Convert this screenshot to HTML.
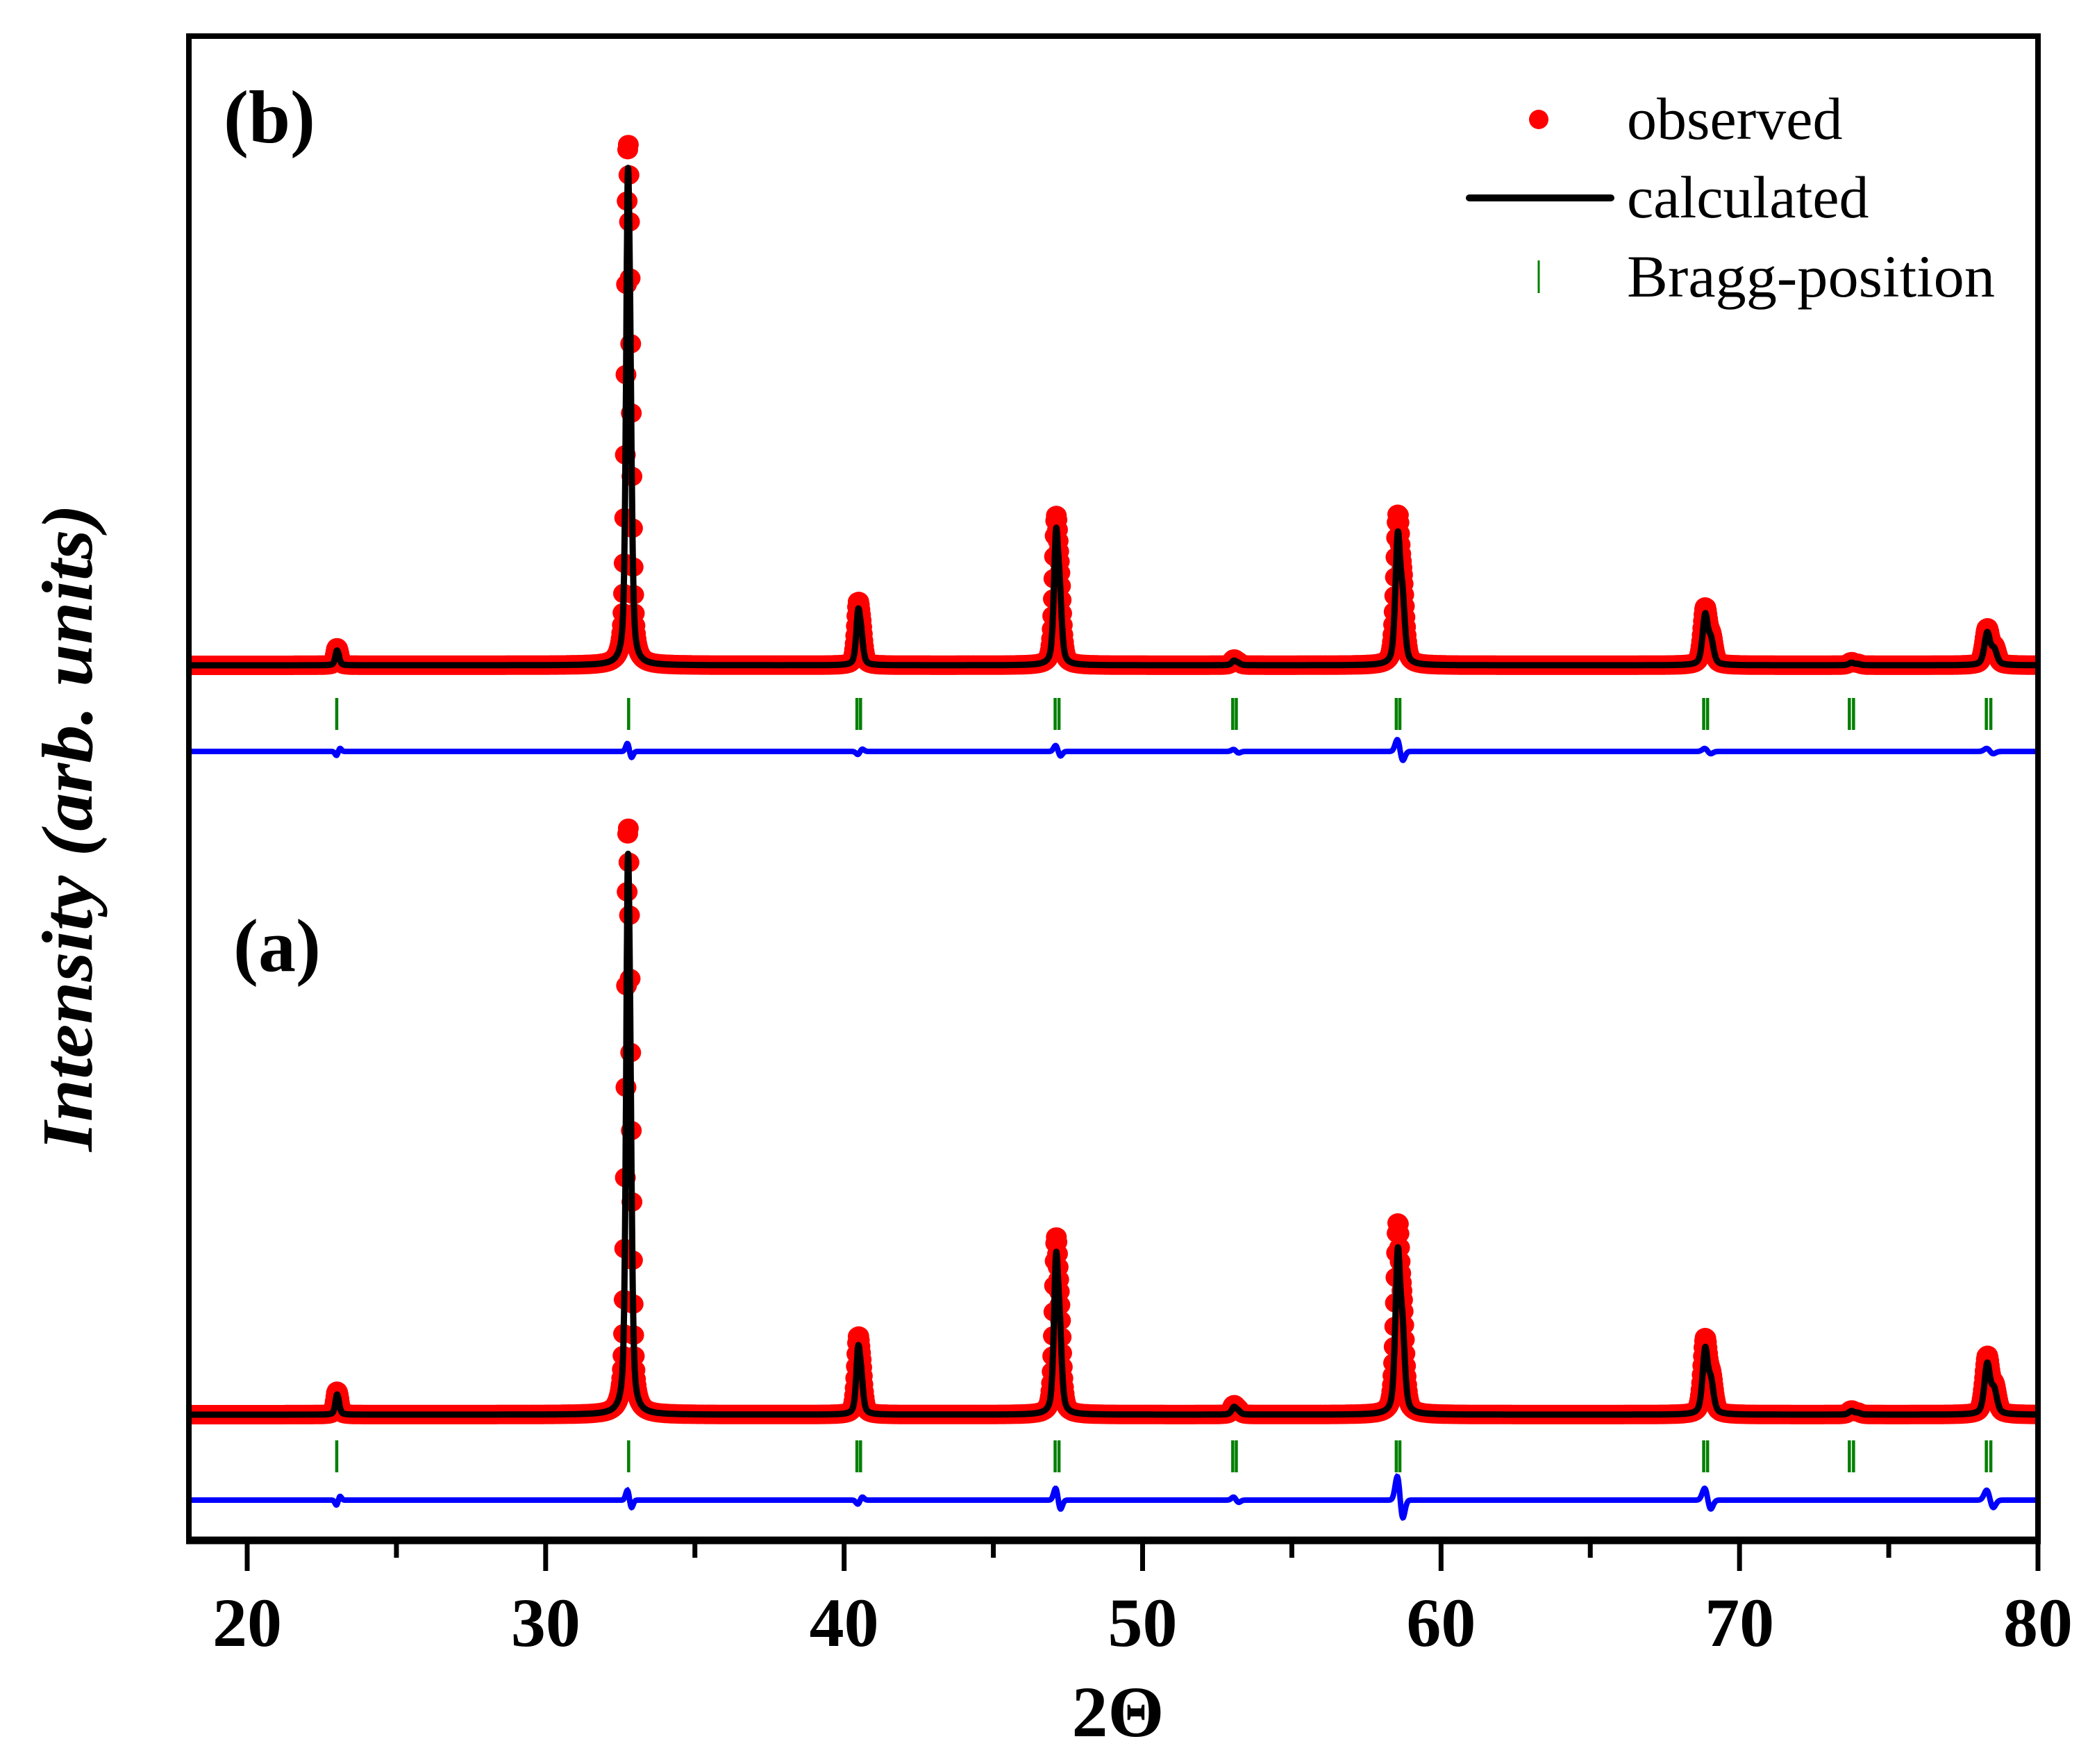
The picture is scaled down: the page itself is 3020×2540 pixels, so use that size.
<!DOCTYPE html>
<html><head><meta charset="utf-8">
<style>
html,body{margin:0;padding:0;background:#fff;}
svg{display:block;}
text{font-family:"Liberation Serif",serif;}
</style></head>
<body>
<svg id="chart" width="3020" height="2540" viewBox="0 0 3020 2540" xmlns="http://www.w3.org/2000/svg">
  <rect x="0" y="0" width="3020" height="2540" fill="#fff"/>
  <g id="plot"></g>
  <rect x="272" y="52" width="2663" height="2166" fill="none" stroke="#000" stroke-width="8"/>
  <line x1="268" y1="2218" x2="2939" y2="2218" stroke="#000" stroke-width="11"/>
  <g id="xticks"></g>
  <text x="1610" y="2500" font-size="104" font-weight="bold" text-anchor="middle">2Θ</text>
  <text transform="translate(132,1192) rotate(-90)" font-size="104" font-weight="bold" font-style="italic" text-anchor="middle" textLength="932" lengthAdjust="spacingAndGlyphs">Intensity (arb. units)</text>
  <text x="322" y="205" font-size="108" font-weight="bold">(b)</text>
  <text x="336" y="1398" font-size="108" font-weight="bold">(a)</text>
  <g>
    <ellipse cx="2216" cy="172" rx="14" ry="14" fill="#ff0000"/>
    <text x="2343" y="200" font-size="86">observed</text>
    <line x1="2116" y1="285" x2="2320" y2="285" stroke="#000" stroke-width="10" stroke-linecap="round"/>
    <text x="2343" y="313" font-size="86">calculated</text>
    <line x1="2216" y1="375" x2="2216" y2="422" stroke="#008000" stroke-width="3"/>
    <text x="2343" y="427" font-size="86" textLength="530" lengthAdjust="spacingAndGlyphs">Bragg-position</text>
  </g>
</svg>
<script>
// ---- data ----
const xTicks = [20, 30, 40, 50, 60, 70, 80];
const xMinorTicks = [25, 35, 45, 55, 65, 75];
const peakPos = [23.0, 32.75, 40.47, 47.1, 53.06, 58.55, 68.85, 73.75, 78.3];
const obsIntB = [33, 990, 122, 285, 12, 290, 112, 7, 72];
const calcIntB = [28, 940, 108, 262, 9, 256, 100, 5, 64];
const obsIntA = [44, 1115, 150, 338, 19, 368, 148, 9, 114];
const calcIntA = [38, 1060, 132, 310, 15, 320, 130, 7, 100];
const diffAmpB = [-4, 8, -3, 6, 2, 12, 3, 0, 3];
const diffAmpA = [-5, 10, -4, 12, 3, 24, 12, 0, 10];
const braggPos = [23.0, 32.78, 40.43, 40.55, 47.07, 47.2, 53.02, 53.14, 58.5, 58.62, 68.8, 68.93, 73.68, 73.82, 78.27, 78.42];

// ---- axes ----
const X0 = 20, X1 = 80, PX0 = 356, PX1 = 2935;
function xs(v){ return PX0 + (v - X0) * (PX1 - PX0) / (X1 - X0); }
const yScale = 0.75;
const panels = [
  {id:'b', base:958, obs:obsIntB, calc:calcIntB, diff:diffAmpB, braggTop:1005, braggBot:1051, diffY:1082},
  {id:'a', base:2037, obs:obsIntA, calc:calcIntA, diff:diffAmpA, braggTop:2074, braggBot:2120, diffY:2160}
];
function ys(p, v){ return p.base - v * yScale; }
function fwhm(t){ return 0.14 + 0.0018 * (t - 30); }
function pv(x, c, w){
  const d = (x - c) / (w / 2);
  return 0.5 / (1 + d * d) + 0.5 * Math.exp(-0.693 * d * d);
}
function profile(x, ints){
  let s = 0;
  for (let i = 0; i < peakPos.length; i++){
    const c = peakPos[i], w = fwhm(c);
    const dk = 2 * Math.tan(c * Math.PI / 360) * 0.0025 * 180 / Math.PI;
    const norm = 1 + 0.45 * pv(c, c + dk, w);
    s += ints[i] * (pv(x, c, w) + 0.45 * pv(x, c + dk, w)) / norm;
  }
  return s;
}
function diffVal(x, amps){
  let s = 0;
  for (let i = 0; i < peakPos.length; i++){
    const c = peakPos[i], w = fwhm(c);
    const d = (x - c) / (w * 0.6);
    s += amps[i] * (Math.exp(-d * d) - 0.8 * Math.exp(-(d - 1.3) * (d - 1.3)));
  }
  return s;
}
const NS = 'http://www.w3.org/2000/svg';
const plot = document.getElementById('plot');
function mk(tag, attrs, parent){
  const e = document.createElementNS(NS, tag);
  for (const k in attrs) e.setAttribute(k, attrs[k]);
  parent.appendChild(e);
  return e;
}
const step = 0.02;
panels.forEach(p => {
  const g = mk('g', {}, plot);
  
  
  const og = mk('g', {fill:'#ff0000'}, g);
  
  
  let dots = '';
  for (let x = 18.05; x <= 80.0; x += step){
    const v = profile(x, p.obs);
    dots += 'M' + (xs(x) - 15).toFixed(1) + ',' + ys(p, v).toFixed(1) + 'a15,14 0 1,0 30,0a15,14 0 1,0 -30,0';
  }
  const dp = mk('path', {d:dots, fill:'#ff0000'}, og);
  
  
  let cd = '';
  for (let x = 18.0; x <= 80.0; x += 0.005){
    cd += (cd ? 'L' : 'M') + xs(x).toFixed(1) + ',' + ys(p, profile(x, p.calc)).toFixed(1);
  }
  const cl = mk('path', {d:cd, fill:'none', stroke:'#000', 'stroke-width':9, 'stroke-linejoin':'round'}, g);
  
  
  const bg = mk('g', {}, g);
  
  
  braggPos.forEach(b => {
    const l = mk('line', {x1:xs(b), x2:xs(b), y1:p.braggTop, y2:p.braggBot, stroke:'#008000', 'stroke-width':4.5}, bg);
    
    
  });
  let dd = '';
  for (let x = 18.0; x <= 80.0; x += 0.01){
    dd += (dd ? 'L' : 'M') + xs(x).toFixed(1) + ',' + (p.diffY - diffVal(x, p.diff) * 1.6).toFixed(1);
  }
  const dl = mk('path', {d:dd, fill:'none', stroke:'#0000ff', 'stroke-width':8}, g);
  
  
});
const cover = mk('rect', {x:0, y:40, width:268, height:2200, fill:'#fff'}, plot);


const cover2 = mk('rect', {x:2939, y:40, width:81, height:2200, fill:'#fff'}, plot);


const xt = document.getElementById('xticks');
xTicks.forEach(t => {
  const l = mk('line', {x1:xs(t), x2:xs(t), y1:2218, y2:2262, stroke:'#000', 'stroke-width':7}, xt);
  
  
  const tx = mk('text', {x:xs(t), y:2370, 'font-size':100, 'font-weight':'bold', 'text-anchor':'middle'}, xt);
  tx.textContent = String(t);
  
  
});
xMinorTicks.forEach(t => {
  const l = mk('line', {x1:xs(t), x2:xs(t), y1:2218, y2:2243, stroke:'#000', 'stroke-width':7}, xt);
  
  
});
</script>
</body></html>
